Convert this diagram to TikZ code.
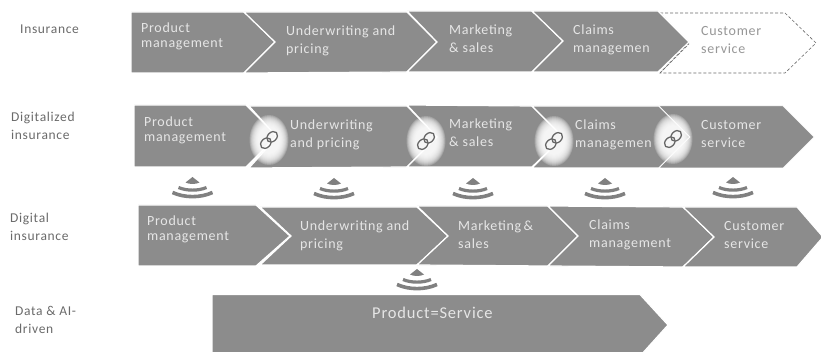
\documentclass[tikz,border=0pt]{standalone}
\usepackage{fontspec}
\setmainfont[LetterSpace=5]{Carlito}
\definecolor{cgray}{HTML}{8C8C8C}
\definecolor{ctext}{HTML}{E6E6E6}
\definecolor{clabel}{HTML}{6A6A6A}
\definecolor{cicon}{HTML}{808080}
\tikzset{
  x=1pt,y=-1pt,
  chev/.style={fill=cgray,draw=white,line width=1.2pt,line join=miter},
  chevd/.style={fill=white,draw=clabel,densely dashed,line width=.6pt},
  inchev/.style={text=ctext,font=\fontsize{14}{18}\selectfont,align=left,anchor=north west,inner sep=0pt},
  dark/.style={text=clabel,font=\fontsize{14}{18}\selectfont,align=left,anchor=north west,inner sep=0pt},
  side/.style={text=clabel,font=\fontsize{13.5}{18}\selectfont,align=left,anchor=north west,inner sep=0pt},
}
% #1 x,y bottom centre of wave icon
\newcommand{\waveicon}[2]{%
  \begin{scope}[shift={(#1,#2)}]
    \fill[cicon] (0,-21) -- (7,-15.5) .. controls (3,-13.5) and (-3,-13.5) .. (-7,-15.5) -- cycle;
    \draw[cicon,line width=3.2pt] (-14,-10.5) .. controls (-6,-7) and (6,-7) .. (14,-10.5);
    \draw[cicon,line width=3.6pt] (-20,-5.5) .. controls (-8,0) and (8,0) .. (20,-5.5);
  \end{scope}}
\newcommand{\linkblob}[2]{%
  \begin{scope}[shift={(#1,#2)}]
    \foreach \r in {25,24,23,22,21,20,19,18,17,16,15,14}
      \fill[white,opacity=.2] (0,0) ellipse[x radius=\r*.78,y radius=\r];
    \draw[cicon!80!black,line width=1.3pt,rotate=45] (-4.5,0) ellipse[x radius=6,y radius=4.5];
    \draw[cicon!80!black,line width=1.3pt,rotate=45] (4.5,0) ellipse[x radius=6,y radius=4.5];
  \end{scope}}
\begin{document}
\begin{tikzpicture}
\useasboundingbox (0,0) rectangle (821,352);
\begin{scope}
\clip (0,0) rectangle (821,352);
% Row 1
\filldraw[chevd] (660,13) -- (785,13) -- (816,43) -- (785,73) -- (660,73) -- (689,43) -- cycle;
\filldraw[chev] (131,12) -- (244,12) -- (275,42) -- (244,73) -- (131,73) -- cycle;
\filldraw[chev] (244,12) -- (407,12) -- (437,42) -- (407,72) -- (244,73) -- (275,42) -- cycle;
\filldraw[chev] (407,11) -- (532,11) -- (563,41) -- (532,72) -- (407,72) -- (437,42) -- cycle;
\filldraw[chev] (532,11) -- (658,11) -- (689,42) -- (658,72) -- (532,72) -- (563,41) -- cycle;
\draw[clabel,densely dashed,line width=.6pt] (660,73) -- (689,44);
% Row 2
\filldraw[chev] (134,105) -- (246,105) -- (277,136) -- (246,167) -- (134,167) -- cycle;
\filldraw[chev] (249,106) -- (407,106) -- (437,137) -- (407,167) -- (249,168) -- (277,137) -- cycle;
\filldraw[chev] (407,105) -- (532,106) -- (563,137) -- (532,167) -- (407,167) -- (437,137) -- cycle;
\filldraw[chev] (532,106) -- (659,106) -- (690,137) -- (659,168) -- (532,168) -- (563,137) -- cycle;
\filldraw[chev,line width=.5pt] (659,106) -- (783,106) -- (814,137) -- (783,168) -- (659,168) -- (690,137) -- cycle;
\linkblob{269}{140}
\linkblob{426}{141}
\linkblob{554}{141}
\linkblob{673}{139}
% Row 3
\filldraw[chev] (138,205) -- (256,205) -- (290,236) -- (256,266) -- (138,266) -- cycle;
\filldraw[chev] (260,207) -- (417,207) -- (448,236) -- (417,265) -- (260,265) -- (291,236) -- cycle;
\filldraw[chev] (417,206) -- (548,206) -- (578,236) -- (548,266) -- (417,265) -- (448,236) -- cycle;
\filldraw[chev] (548,206) -- (683,207) -- (714,237) -- (683,267) -- (548,266) -- (578,236) -- cycle;
\filldraw[chev] (683,207) -- (797,207) -- (823,237) -- (797,267) -- (683,267) -- (714,237) -- cycle;
% Row 4
\filldraw[chev] (212,294.5) -- (640,294.5) -- (668,325) -- (640,356) -- (212,356) -- cycle;
\end{scope}
% Wave icons
\waveicon{192.5}{198}
\waveicon{334}{199}
\waveicon{473}{199}
\waveicon{605}{199}
\waveicon{733}{198}
\waveicon{417}{290}
% Row 1 text
\node[inchev] (a1) at (141,23) {Product\\[-3pt]management};
\node[inchev] (a2) at (286,26) {Underwriting and\\pricing};
\node[inchev] (a3) at (449,25) {Marketing\\\& sales};
\node[inchev] (a4) at (573,25) {Claims\\managemen};
\node[dark,text=clabel!70!white] (a5) at (701,26) {Customer\\service};
% Row 2
\node[inchev] (b1) at (144,117) {Product\\[-3pt]management};
\node[inchev] (b2) at (290,120) {Underwriting\\and pricing};
\node[inchev] (b3) at (449,119) {Marketing\\\& sales};
\node[inchev] (b4) at (575,120) {Claims\\managemen};
\node[inchev] (b5) at (701,120) {Customer\\service};
% Row 3
\node[inchev] (c1) at (147,216) {Product\\[-3pt]management};
\node[inchev] (c2) at (300,221) {Underwriting and\\pricing};
\node[inchev] (c3) at (458,221) {Marketing\,\&\\sales};
\node[inchev] (c4) at (589,220) {Claims\\management};
\node[inchev] (c5) at (724,221) {Customer\\service};
% Row 4
\node[text=ctext,font=\fontsize{16.5}{20}\selectfont,anchor=north west,inner sep=0pt] (d1) at (372,307) {Product=Service};
% Side labels
\node[side] (s1) at (20,25) {Insurance};
\node[side] (s2) at (11,112) {Digitalized\\insurance};
\node[side] (s3) at (10,213) {Digital\\insurance};
\node[side] (s4) at (15,306) {Data \& AI-\\driven};
\end{tikzpicture}
\end{document}
